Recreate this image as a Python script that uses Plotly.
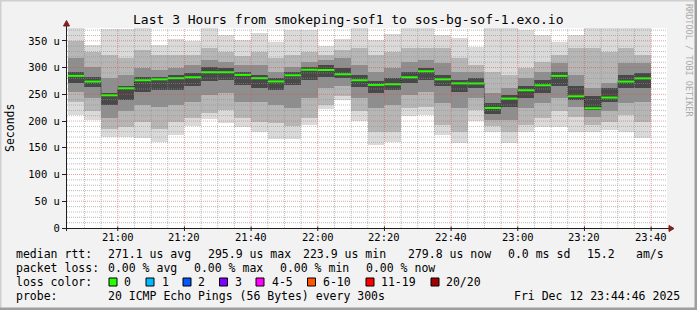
import plotly.graph_objects as go
import pandas as pd

# ---------------- data (values in microseconds) ----------------
slot_start = pd.date_range('2025-12-12 20:45', periods=35, freq='5min')

median = [284.5, 273.8, 248.2, 261.3, 276.3, 278.0, 280.1, 281.9, 291.3, 291.3,
          286.3, 280.1, 274.1, 285.6, 295.9, 295.5, 287.5, 276.3, 267.6, 268.8,
          281.9, 293.1, 278.0, 270.5, 270.3, 224.5, 242.0, 257.6, 266.9, 284.5,
          246.3, 223.9, 243.9, 273.8, 279.8]

ping_min = [211, 202, 171, 171, 169, 161, 174, 190, 204, 197, 188, 180, 167, 167, 192,
            222, 240, 200, 155, 161, 209, 211, 173, 159, 200, 180, 159, 180, 188, 188,
            179, 180, 184, 180, 169]
ping_max = [374, 342, 372, 372, 374, 342, 353, 350, 374, 361, 352, 365, 348, 371, 371,
            340, 353, 374, 352, 363, 374, 374, 361, 355, 339, 374, 374, 371, 361, 348,
            361, 374, 374, 374, 374]
ping_p4 = [236, 218, 186, 189, 199, 186, 199, 205, 215, 221, 205, 199, 196, 190, 205,
           230, 246, 218, 180, 180, 224, 227, 193, 180, 221, 190, 180, 193, 205, 218,
           208, 193, 199, 211, 199]
ping_p17 = [349, 330, 324, 317, 333, 324, 324, 324, 336, 330, 321, 330, 317, 324, 330,
            324, 333, 336, 324, 330, 336, 336, 336, 317, 305, 292, 286, 299, 311, 324,
            336, 336, 330, 336, 324]
ping_p7 = [255, 243, 205, 218, 230, 227, 230, 236, 249, 252, 236, 236, 230, 224, 243,
           261, 265, 243, 224, 230, 249, 255, 233, 224, 243, 202, 202, 224, 233, 243,
           227, 208, 218, 233, 236]
ping_p14 = [317, 302, 280, 286, 299, 296, 299, 305, 314, 311, 305, 305, 292, 302, 311,
            314, 317, 305, 292, 299, 311, 314, 308, 292, 292, 252, 261, 280, 292, 308,
            286, 261, 271, 308, 308]
ping_p9 = [271, 264, 230, 240, 255, 258, 258, 265, 274, 277, 268, 261, 258, 268, 277,
           283, 280, 264, 252, 258, 271, 277, 265, 255, 261, 214, 227, 243, 252, 265,
           240, 221, 236, 261, 261]
ping_p12 = [292, 283, 252, 265, 283, 283, 286, 289, 302, 299, 292, 286, 280, 292, 302,
            305, 299, 286, 274, 280, 292, 299, 286, 277, 280, 233, 249, 265, 277, 292,
            265, 246, 261, 286, 289]

y_ticks = [0, 50, 100, 150, 200, 250, 300, 350]
y_tick_text = ['0', '50 u', '100 u', '150 u', '200 u', '250 u', '300 u', '350 u']

loss_labels = ['0', '1', '2', '3', '4-5', '6-10', '11-19', '20/20']
loss_colors = ['#26ff00', '#00b8ff', '#0059ff', '#7e00ff', '#ff00ff', '#ff5500', '#ff0000', '#a10000']

# ---------------- geometry helpers ----------------
W, H = 697, 310
L, R, T, B = 67, 30, 28, 82
PW, PH = W - L - R, H - T - B


def px(xp):
    return (xp - L) / PW


def py(yp):
    return (T + PH - yp) / PH


MONO = 'DejaVu Sans Mono'
step = pd.Timedelta('5min')
centers = slot_start + step / 2
x_start = pd.Timestamp('2025-12-12 20:44:46')
x_end = pd.Timestamp('2025-12-12 23:44:46')

fig = go.Figure()

layers = [(ping_min, ping_max, '#dadada'),
          (ping_p4, ping_p17, '#b6b6b6'),
          (ping_p7, ping_p14, '#8e8e8e'),
          (ping_p9, ping_p12, '#484848')]
for lo, hi, col in layers:
    fig.add_trace(go.Bar(x=centers, y=[h - l for l, h in zip(lo, hi)], base=lo,
                         width=step.total_seconds() * 1000,
                         marker=dict(color=col, line=dict(width=0)),
                         hoverinfo='skip', showlegend=False))

# dark step connecting medians
sx = list(slot_start) + [slot_start[-1] + step]
sy = median + [median[-1]]
fig.add_trace(go.Scatter(x=sx, y=sy, mode='lines', line=dict(color='#1a1a1a', width=1, dash='1px,1px', shape='hv'),
                         hoverinfo='skip', showlegend=False))

gx, gy = [], []
for s, m in zip(slot_start, median):
    gx += [s, s + step, None]
    gy += [m, m, None]
fig.add_trace(go.Scatter(x=gx, y=gy, mode='lines', line=dict(color='#26ff00', width=2),
                         hoverinfo='skip', showlegend=False))

shapes = []
GRID = 'rgba(143,143,143,0.6)'
MGRID = 'rgba(222,79,79,0.55)'
for t in pd.date_range('2025-12-12 20:50', '2025-12-12 23:40', freq='5min'):
    major = t.minute % 20 == 0
    shapes.append(dict(type='line', xref='x', yref='paper', x0=t, x1=t, y0=0, y1=1, layer='above',
                       line=dict(color=MGRID if major else GRID, width=1, dash='1px,1px')))
for v in range(10, 371, 10):
    major = v % 50 == 0
    shapes.append(dict(type='line', xref='paper', yref='y', x0=0, x1=1, y0=v, y1=v, layer='above',
                       line=dict(color=MGRID if major else GRID, width=1, dash='1px,1px')))

AX = '#1f1f1f'
ARROW = '#801f1f'
# axis lines
shapes.append(dict(type='line', xref='paper', yref='paper', x0=px(62), x1=px(670), y0=py(228.5), y1=py(228.5),
                   line=dict(color=AX, width=1), layer='above'))
shapes.append(dict(type='line', xref='paper', yref='paper', x0=px(66.5), x1=px(66.5), y0=py(231), y1=py(24),
                   line=dict(color=AX, width=1), layer='above'))
# x tick marks at major grid
for t in pd.date_range('2025-12-12 21:00', '2025-12-12 23:40', freq='20min'):
    shapes.append(dict(type='line', xref='x', yref='paper', x0=t, x1=t, y0=py(226.5), y1=py(231),
                       line=dict(color=AX, width=1), layer='above'))
# arrows
shapes.append(dict(type='path', xref='paper', yref='paper', layer='above', fillcolor=ARROW, line=dict(color=ARROW, width=1),
                   path=f'M {px(669)} {py(225.5)} L {px(674)} {py(228.5)} L {px(669)} {py(231.5)} Z'))
shapes.append(dict(type='path', xref='paper', yref='paper', layer='above', fillcolor=ARROW, line=dict(color=ARROW, width=1),
                   path=f'M {px(63.5)} {py(26)} L {px(66.5)} {py(20.5)} L {px(69.5)} {py(26)} Z'))
# image frame (3d shade)
shapes.append(dict(type='rect', xref='paper', yref='paper', x0=px(0), x1=px(697), y0=py(0), y1=py(1.5),
                   fillcolor='#cfcfcf', line=dict(width=0), layer='above'))
shapes.append(dict(type='rect', xref='paper', yref='paper', x0=px(0), x1=px(1.5), y0=py(0), y1=py(310),
                   fillcolor='#cfcfcf', line=dict(width=0), layer='above'))
shapes.append(dict(type='rect', xref='paper', yref='paper', x0=px(0), x1=px(697), y0=py(307.5), y1=py(310),
                   fillcolor='#9e9e9e', line=dict(width=0), layer='above'))
shapes.append(dict(type='rect', xref='paper', yref='paper', x0=px(694.5), x1=px(697), y0=py(0), y1=py(310),
                   fillcolor='#9e9e9e', line=dict(width=0), layer='above'))

# legend boxes
box_x = [109, 146, 183, 219.5, 256, 307.5, 366, 431]
lab_x = [124, 161.3, 198, 234.7, 271.3, 322.7, 380.7, 446]
for bx, col in zip(box_x, loss_colors):
    shapes.append(dict(type='rect', xref='paper', yref='paper', x0=px(bx), x1=px(bx + 8), y0=py(278), y1=py(286),
                       fillcolor=col, line=dict(color='black', width=1), layer='above'))

ann = []


def text(x, y, s, size=11.5, anchor='left', color='black', angle=0):
    ann.append(dict(xref='paper', yref='paper', x=px(x), y=py(y), text=s, showarrow=False,
                    xanchor=anchor, yanchor='middle', borderpad=0, textangle=angle,
                    font=dict(family=MONO, size=size, color=color)))


text(347.5, 19, 'Last 3 Hours from smokeping-sof1 to sos-bg-sof-1.exo.io', size=13, anchor='center')
text(10, 128, 'Seconds', size=11.5, anchor='center', angle=-90)
text(689, 60, 'RRDTOOL / TOBI OETIKER', size=8.5, anchor='center', color='#aaaaaa', angle=90)

# x tick labels (every 20 minutes)
for t in pd.date_range('2025-12-12 21:00', '2025-12-12 23:40', freq='20min'):
    xp = L + (t - x_start) / (x_end - x_start) * PW
    text(xp, 237, t.strftime('%H:%M'), size=10.5, anchor='center')

row1 = [(15.3, 'median rtt:'), (106.6, '271.1 us avg'), (206.6, '295.9 us max'), (302, '223.9 us min'),
        (406.6, '279.8 us now'), (506.6, '0.0 ms sd'), (586, '15.2'), (635, 'am/s')]
row2 = [(15.3, 'packet loss:'), (106.6, '0.00 % avg'), (192.6, '0.00 % max'), (278.6, '0.00 % min'),
        (365, '0.00 % now')]
for x, s in row1:
    text(x, 254, s)
for x, s in row2:
    text(x, 268, s)
text(15.3, 282, 'loss color:')
for x, s in zip(lab_x, loss_labels):
    text(x - 0.7, 282, s)
text(15.3, 296, 'probe:')
text(106.6, 296, '20 ICMP Echo Pings (56 Bytes) every 300s')
text(512.6, 296, 'Fri Dec 12 23:44:46 2025')

fig.update_layout(
    width=W, height=H, margin=dict(l=L, r=R, t=T, b=B, autoexpand=False),
    paper_bgcolor='#f2f2f2', plot_bgcolor='white',
    barmode='overlay', bargap=0, showlegend=False,
    shapes=shapes, annotations=ann,
    xaxis=dict(type='date', range=[x_start, x_end], showgrid=False, zeroline=False,
               showticklabels=False, ticks='', showline=False),
    yaxis=dict(range=[0, 374], showgrid=False, zeroline=False, tickvals=y_ticks, ticktext=y_tick_text,
               ticks='outside', ticklen=4, tickcolor=AX, showline=False,
               tickfont=dict(family=MONO, size=10.5, color='black')),
)

fig.write_html('out.html')
